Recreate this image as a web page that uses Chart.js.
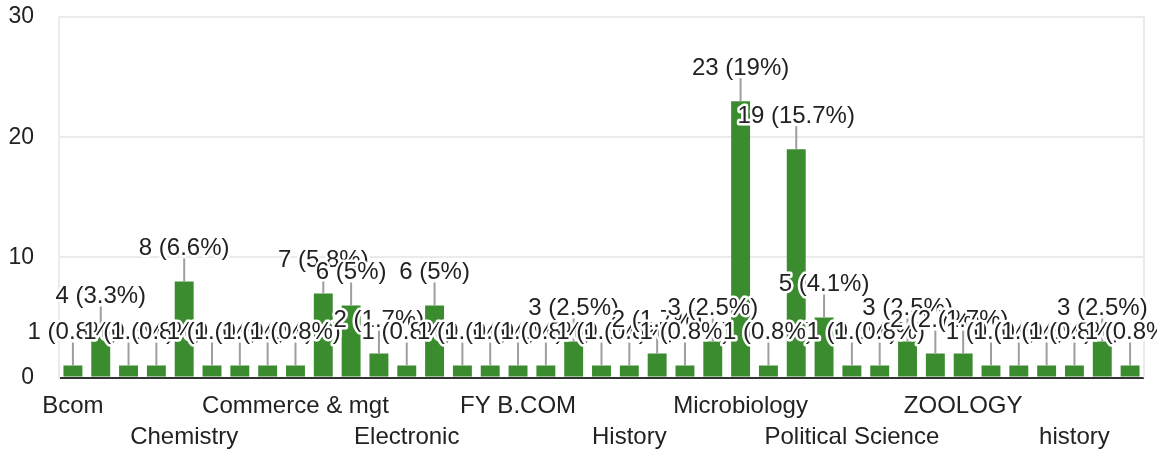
<!DOCTYPE html>
<html>
<head>
<meta charset="utf-8">
<script src="https://cdn.jsdelivr.net/npm/chart.js@4.4.1/dist/chart.umd.min.js"></script>
<style>
  html, body { margin: 0; padding: 0; background: #ffffff; }
  #wrap { width: 1157px; height: 455px; position: relative; }
</style>
</head>
<body>
<div id="wrap"><canvas id="c"></canvas></div>
<script>
// ---- data ----
const categories = [
  "Bcom", "Biotechnology", "Botany", "Chem",
  "Chemistry", "Chemistry department", "Commerce", "Commerce & Management",
  "Commerce & mgt", "Computer Science", "Economics", "Education",
  "Electronic", "English", "English literature", "Environmental Science",
  "FY B.COM", "FYBSC", "Geography", "Hindi",
  "History", "IT", "Law", "Mathematics",
  "Microbiology", "Microbiology dept", "Physics", "Physiology",
  "Political Science", "Psychology", "Sociology", "Statistics",
  "ZOOLOGY", "Zoology", "bcom", "chemistry",
  "history", "microbiology", "zoology"
];
const counts = [
  1, 4, 1, 1,
  8, 1, 1, 1,
  1, 7, 6, 2,
  1, 6, 1, 1,
  1, 1, 3, 1,
  1, 2, 1, 3,
  23, 1, 19, 5,
  1, 1, 3, 2,
  2, 1, 1, 1,
  1, 3, 1
];
const yTickValues = [0, 10, 20, 30];

const FONT = '"Liberation Sans", Arial, sans-serif';
const totalResponses = counts.reduce((a, b) => a + b, 0);

function pctText(v) {
  const p = Math.round(v / totalResponses * 1000) / 10;
  return v + ' (' + (Number.isInteger(p) ? p.toFixed(0) : p.toFixed(1)) + '%)';
}

const frameAndLabels = {
  id: 'frameAndLabels',
  beforeDatasetsDraw(chart) {
    const { ctx, chartArea } = chart;
    ctx.save();
    ctx.strokeStyle = '#ebebeb';
    ctx.lineWidth = 2;
    ctx.beginPath();
    ctx.moveTo(chartArea.right, chartArea.top - 1);
    ctx.lineTo(chartArea.right, chartArea.bottom);
    ctx.stroke();
    ctx.restore();
  },
  afterDatasetsDraw(chart) {
    const { ctx } = chart;
    const meta = chart.getDatasetMeta(0);
    ctx.save();
    ctx.strokeStyle = '#9e9e9e';
    ctx.lineWidth = 2;
    meta.data.forEach((el) => {
      ctx.beginPath();
      ctx.moveTo(el.x, el.y - 23);
      ctx.lineTo(el.x, el.y);
      ctx.stroke();
    });
    ctx.font = '24px ' + FONT;
    ctx.textAlign = 'center';
    ctx.textBaseline = 'middle';
    ctx.lineJoin = 'round';
    meta.data.forEach((el, i) => {
      const t = pctText(counts[i]);
      ctx.strokeStyle = '#ffffff';
      ctx.lineWidth = 5;
      ctx.strokeText(t, el.x, el.y - 33);
      ctx.fillStyle = '#222222';
      ctx.fillText(t, el.x, el.y - 33);
    });
    ctx.restore();
  }
};

new Chart(document.getElementById('c'), {
  type: 'bar',
  data: {
    labels: categories,
    datasets: [{
      data: counts,
      backgroundColor: '#3b8c2f',
      borderWidth: 0,
      barPercentage: 0.68,
      categoryPercentage: 1.0
    }]
  },
  options: {
    responsive: true,
    maintainAspectRatio: false,
    animation: false,
    events: [],
    layout: { padding: { left: 0, right: 13, top: 17, bottom: -11 } },
    plugins: { legend: { display: false }, tooltip: { enabled: false } },
    scales: {
      x: {
        offset: true,
        grid: { display: false, drawTicks: false },
        border: { display: false },
        ticks: {
          autoSkip: false,
          maxRotation: 0,
          minRotation: 0,
          padding: 13,
          color: '#222222',
          font: { family: FONT, size: 24, lineHeight: 1.3 },
          callback: function (value, index) {
            if (index % 4 !== 0) return '';
            const name = categories[index];
            return (index / 4) % 2 === 0 ? name : ['', name];
          }
        }
      },
      y: {
        min: 0,
        max: 30,
        afterFit: function (scale) {
          scale.width = 59;
          scale.paddingTop = 0;
          scale.paddingBottom = 0;
        },
        afterBuildTicks: function (scale) {
          scale.ticks = yTickValues.map(v => ({ value: v }));
        },
        grid: {
          drawTicks: false,
          lineWidth: 2,
          color: ctx => (ctx.tick && ctx.tick.value === 0) ? '#333333' : '#ebebeb'
        },
        border: { display: true, color: '#ebebeb', width: 2 },
        ticks: {
          padding: 25,
          color: '#222222',
          font: { family: FONT, size: 23 }
        }
      }
    }
  },
  plugins: [frameAndLabels]
});
</script>
</body>
</html>
